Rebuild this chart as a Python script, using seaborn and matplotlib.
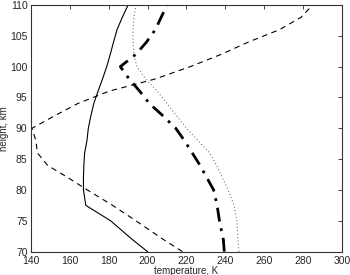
import numpy as np
import pandas as pd
import matplotlib
matplotlib.use("Agg")
import matplotlib.pyplot as plt
import seaborn as sns

# perfis de temperatura (K) por altura (km)
altura = [70, 72, 75, 77.5, 80, 82, 84, 86, 88, 90, 92, 94, 96, 98, 100, 102, 104, 106, 108, 110]
t_solido = [200, 192, 181, 168.2, 167, 167, 167.2, 167.6, 168.8, 169.5, 170.8, 172.3, 174.5, 176.8, 179, 180.8, 182.5, 184.3, 187, 190]
t_tracejado = [218, 208, 194, 182, 169, 159, 148.5, 143.3, 142.5, 140.5, 152, 164, 180, 204, 222, 238, 252, 268, 279, 285]
t_tracoponto = [239.5, 239, 237, 235.8, 234, 230.5, 227, 223, 219, 214.5, 208, 201, 196, 190.5, 186, 194, 199.5, 204, 207, 210]
t_pontilhado = [247, 246.5, 246, 244.5, 241.5, 238.5, 235.5, 232, 226, 220, 215, 210, 205, 199, 194.5, 193, 192.5, 192.5, 193, 194]

series = {
    "solido": (t_solido, dict(color="black", lw=0.8, ls="-")),
    "tracejado": (t_tracejado, dict(color="black", lw=0.8, ls=(0, (5, 4)))),
    "tracoponto": (t_tracoponto, dict(color="black", lw=2.0, ls=(0, (5, 2.5, 1, 2.5)))),
    "pontilhado": (t_pontilhado, dict(color="#555555", lw=0.7, ls=(0, (1, 2.5)))),
}

sns.set_style("white")
plt.rcParams["font.family"] = ["Liberation Sans", "DejaVu Sans"]

fig = plt.figure(figsize=(3.5, 2.75), dpi=100)
ax = fig.add_axes([0.0886, 0.085, 0.888, 0.897])

for nome, (temp, estilo) in series.items():
    df = pd.DataFrame({"temperatura": temp, "altura": altura})
    sns.lineplot(data=df, x="temperatura", y="altura", sort=False, estimator=None,
                 ax=ax, **estilo)

ax.set_xlim(140, 300)
ax.set_ylim(70, 110)
ax.set_xticks(np.arange(140, 301, 20))
ax.set_yticks(np.arange(70, 111, 5))
ax.tick_params(direction="in", top=True, right=True, labelsize=7.5, length=3, width=0.6)
ax.tick_params(axis="x", pad=3)
ax.tick_params(axis="y", pad=2.5)
for s in ax.spines.values():
    s.set_linewidth(0.8)
    s.set_color("#333333")
ax.set_xlabel("temperature, K", fontsize=7, labelpad=0.5)
ax.set_ylabel("height, km", fontsize=7, labelpad=0.5)

plt.savefig("out.png", dpi=100)
plt.close()
